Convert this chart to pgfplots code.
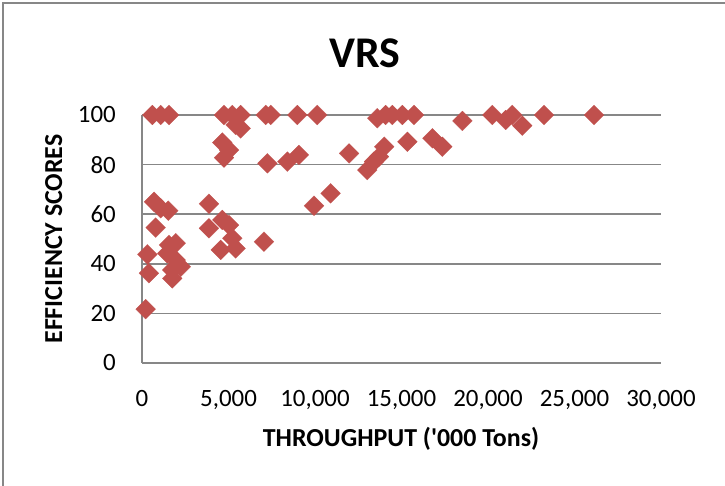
\documentclass[border=0pt]{standalone}
\usepackage{fontspec}
\setmainfont{Carlito}[Ligatures=TeXOff]
\usepackage{pgfplots}
\pgfplotsset{compat=1.18}
\definecolor{ptred}{HTML}{C0504D}
\definecolor{gridgray}{HTML}{878787}
\begin{document}
\begin{tikzpicture}[x=1bp,y=1bp]
\useasboundingbox (0,0) rectangle (725,486);
% chart frame (only left and top edges visible)
\draw[gridgray, line width=2bp] (3,-10) -- (3,483) -- (735,483);
\begin{axis}[
  at={(142bp,123bp)}, anchor=south west,
  scale only axis, width=519bp, height=248bp,
  xmin=0, xmax=30000, ymin=0, ymax=100,
  xtick={0,5000,...,30000}, ytick={0,20,...,100},
  scaled x ticks=false,
  /pgf/number format/assume math mode=true,
  /pgf/number format/1000 sep={,},
  axis x line=bottom, axis y line=left,
  axis line style={gridgray, line width=1.5bp, -},
  ymajorgrids, grid style={gridgray, line width=1.5bp},
  major tick length=0pt,
  tick label style={font=\fontsize{25}{30}\selectfont, inner sep=0pt},
  yticklabel style={anchor=east, xshift=-26bp},
  xticklabel style={anchor=north, yshift=-27bp},
  clip=false,
]
\addplot[only marks, mark=square*, mark size=7bp,
  mark options={rotate=45, fill=ptred, draw=ptred, line width=0.2bp}]
coordinates {
(600,100) (1080,100) (1560,100) (4740,100) (5220,100) (5700,100)
(7150,100) (7440,100) (8980,100) (10130,100) (14080,100) (14470,100)
(15050,100) (15720,100) (20250,100) (21400,100) (23240,100) (26130,100)
(13600,98.7)
(5410,96) (5700,94.6) (18520,97.6) (21020,98) (21980,95.7)
(4640,88.9) (5030,85.9) (4740,82.8) (7250,80.5) (8400,81.2) (9070,83.9)
(11970,84.5) (14000,87.2) (13700,83.2) (13410,81.2) (13020,77.8)
(15340,89.2) (16790,90.6) (17360,87.2)
(10900,68.4) (9940,63.4)
(3870,64.2) (3870,54.3) (4640,57.7) (5030,55.6) (5220,50.3) (5410,46.2)
(4550,45.6) (7050,48.9)
(694,65.0) (1080,62.4) (1520,61.4) (790,54.6) (1560,47.6) (1950,48.3)
(1460,44.2) (1950,41.5) (2240,38.8) (1750,37.5) (1750,34.1) (310,43.8)
(400,36.2) (210,21.7)
};
\end{axis}
\node[anchor=base, font=\bfseries\fontsize{44}{50}\selectfont] at (365,418) {VRS};
\node[anchor=base, font=\bfseries\fontsize{26}{30}\selectfont] at (401,39) {THROUGHPUT ('000 Tons)};
\node[anchor=base, rotate=90, font=\bfseries\fontsize{26}{30}\selectfont] at (62,247) {EFFICIENCY SCORES};
\end{tikzpicture}
\end{document}
